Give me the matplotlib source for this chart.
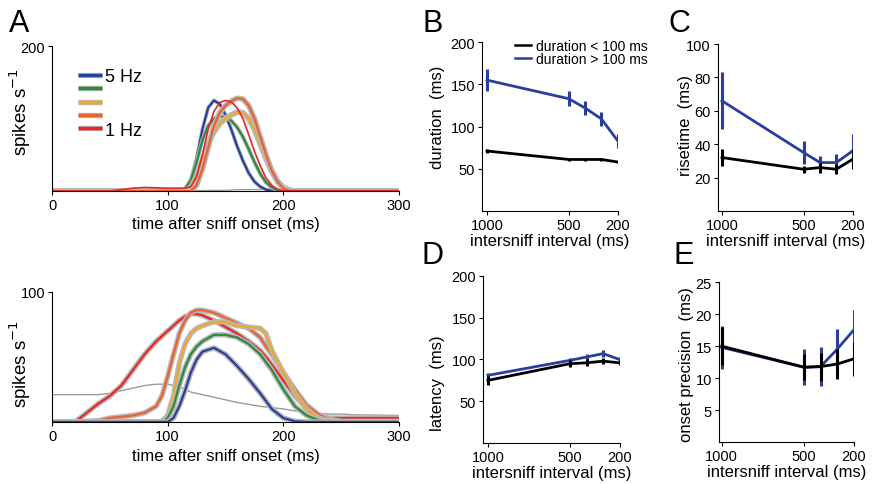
import matplotlib
matplotlib.use("Agg")
import matplotlib.pyplot as plt
import matplotlib.patheffects as pe

plt.rcParams["font.family"] = ["Liberation Sans", "DejaVu Sans"]
plt.rcParams["font.size"] = 10.5

# ---- panel A, top: responses at different sniff frequencies ----
t_top = [0, 50, 60, 70, 80, 90, 100, 105, 110, 115, 120, 125, 130, 135, 140, 145,
         150, 155, 160, 165, 170, 175, 180, 185, 190, 195, 200, 205, 210, 220, 300]
top_blue = [0, 0, 0, 0, 0, 0, 0, 0, 0, 2, 15, 45, 85, 115, 125, 120,
            105, 85, 62, 42, 25, 13, 6, 2, 0.5, 0, 0, 0, 0, 0, 0]
top_green = [0, 0, 0, 0, 0, 0, 0, 0, 0, 3, 15, 40, 70, 90, 100, 103,
             102, 97, 88, 75, 58, 40, 24, 12, 5, 1.5, 0, 0, 0, 0, 0]
top_yellow = [0, 0, 0, 0, 0, 0, 0, 0, 0, 0, 5, 20, 42, 65, 82, 93,
              100, 105, 109, 108, 100, 85, 65, 45, 27, 13, 5, 1.5, 0, 0, 0]
top_orange = [0, 0, 0, 0, 0, 0, 0, 0, 0, 0, 0, 8, 30, 60, 90, 108,
              118, 124, 128, 127, 118, 100, 75, 50, 28, 13, 4, 0, 0, 0, 0]
top_red = [0, 0, 2, 4, 5, 4.5, 4, 4, 4, 4, 6, 20, 50, 85, 110, 122,
           125, 123, 115, 100, 78, 55, 35, 18, 8, 2, 0.5, 0.5, 0.5, 0.5, 0.5]
top_gray = [0.5, 0.5, 0.5, 0.5, 0.5, 0.5, 0.5, 0.5, 0.5, 0.5, 0.6, 0.7, 0.8, 0.9, 1, 1,
            1, 1.5, 2, 2, 2, 2, 2, 1.8, 1.5, 1.3, 1, 1, 1, 1, 1]

# ---- panel A, bottom ----
t_bot = [0, 20, 30, 40, 50, 60, 70, 80, 90, 95, 100, 105, 110, 115, 120, 125, 130,
         140, 150, 160, 170, 180, 185, 190, 200, 210, 220, 230, 240, 250, 260, 300]
bot_blue = [0, 0, 0, 0, 0, 0, 0, 0, 0, 0, 0, 3, 12, 24, 38, 48, 54,
            57, 52, 43, 33, 22, 16, 10, 3, 0.5, 0, 0, 0, 0, 0, 0]
bot_green = [0, 0, 0, 0, 0, 0, 0, 0, 0, 0, 3, 12, 28, 42, 52, 58, 62,
             67, 67, 65, 60, 52, 46, 40, 25, 12, 5, 1.5, 0, 0, 0, 0]
bot_yellow = [0, 0, 0, 0, 0, 0, 0, 0, 0, 0.5, 5, 20, 45, 60, 68, 72, 74,
              77, 77, 74, 73, 72, 68, 55, 38, 22, 10, 3, 1, 0, 0, 0]
bot_orange = [0, 0, 0.5, 1, 3, 4, 5, 7, 12, 20, 35, 52, 68, 78, 84, 86, 86,
              84, 80, 76, 72, 65, 58, 52, 38, 25, 13, 6, 2, 0.5, 0.5, 0.5]
bot_red = [0, 0, 7, 14, 20, 28, 40, 52, 62, 66, 70, 74, 78, 81, 83, 83, 82,
           78, 73, 68, 62, 55, 50, 44, 32, 20, 10, 4, 3, 3, 3, 3]
bot_gray = [21, 21, 21, 21, 22, 24, 26, 28, 29, 29, 29, 28, 27, 25, 23, 22, 21,
            19, 17, 15, 13.5, 12, 11.5, 11, 10, 8.5, 7, 6.5, 6, 6, 5.5, 5]

# ---- panels B-E: versus intersniff interval ----
isi = [1000, 500, 400, 300, 200]
dur_long = [155, 133, 122, 109, 83]
dur_long_err = [13, 9, 8, 8, 8]
dur_short = [71, 61, 61, 61, 58]
dur_short_err = [2, 2, 2, 2, 1.5]

rise_long = [66, 35, 29, 29, 36]
rise_long_err = [17, 7, 4, 5, 10]
rise_short = [32, 25, 26, 25, 31]
rise_short_err = [5, 2, 3, 3, 6]

lat_long = [81, 99, 103, 107, 100]
lat_long_err = [3, 3, 4, 4, 3]
lat_short = [75, 95, 96, 98, 96]
lat_short_err = [5, 4, 4, 4, 3]

prec_long = [14.8, 11.7, 11.8, 14.5, 17.5]
prec_long_err = [3.3, 2.8, 3.0, 3.2, 3.2]
prec_short = [15.0, 11.7, 11.8, 12.2, 13.0]
prec_short_err = [3.0, 2.0, 2.2, 2.3, 2.6]

BLUE = "#2a3e9c"
GREEN = "#2e8a3e"
YELLOW = "#f0a92a"
ORANGE = "#ea622e"
RED = "#e8262a"
GRAY = "#9a9a9a"
SHADE = "#b8b8b8"


def style_axes(ax):
    ax.spines["top"].set_visible(False)
    ax.spines["right"].set_visible(False)
    ax.tick_params(direction="out", length=3, width=0.8, pad=2)


def halo(width):
    return [pe.Stroke(linewidth=width, foreground=SHADE), pe.Normal()]


fig = plt.figure(figsize=(8.83, 4.85), dpi=100)

# panel A top
axA1 = fig.add_axes([0.0589, 0.604, 0.393, 0.299])
axA1.plot(t_top, top_gray, color=GRAY, lw=0.9)
for ys, c, sw in [(top_blue, BLUE, 2.8), (top_green, GREEN, 3.0),
                  (top_yellow, YELLOW, 4.2), (top_orange, ORANGE, 4.0)]:
    axA1.plot(t_top, ys, color=c, lw=1.6, path_effects=halo(sw))
axA1.plot(t_top, top_red, color=RED, lw=1.2)
axA1.set_xlim(0, 300)
axA1.set_ylim(0, 200)
axA1.set_xticks([0, 100, 200, 300])
axA1.set_yticks([200])
axA1.set_xlabel("time after sniff onset (ms)", fontsize=12, labelpad=3)
axA1.set_ylabel("spikes s$^{-1}$", fontsize=13.5)
axA1.yaxis.set_label_coords(-0.055, 0.55)
style_axes(axA1)
leg_handles = [plt.Line2D([], [], color=c, lw=2.5, solid_capstyle="butt",
                          path_effects=halo(3.8))
               for c in [BLUE, GREEN, YELLOW, ORANGE, RED]]
axA1.legend(leg_handles, ["5 Hz", "", "", "", "1 Hz"], loc="upper left",
            bbox_to_anchor=(0.05, 0.91), frameon=False, fontsize=13,
            handlelength=1.3, handletextpad=0.15, labelspacing=-0.2, borderpad=0)

# panel A bottom
axA2 = fig.add_axes([0.0589, 0.128, 0.393, 0.268])
axA2.plot(t_bot, bot_gray, color=GRAY, lw=1.0)
for ys, c in [(bot_red, RED), (bot_orange, ORANGE), (bot_yellow, YELLOW),
              (bot_green, GREEN), (bot_blue, BLUE)]:
    axA2.plot(t_bot, ys, color=c, lw=1.6, path_effects=halo(3.8))
axA2.set_xlim(0, 300)
axA2.set_ylim(0, 100)
axA2.set_xticks([0, 100, 200, 300])
axA2.set_yticks([100])
axA2.set_xlabel("time after sniff onset (ms)", fontsize=12, labelpad=4)
axA2.set_ylabel("spikes s$^{-1}$", fontsize=13.5)
axA2.yaxis.set_label_coords(-0.055, 0.45)
style_axes(axA2)


def interval_panel(rect, short, short_err, long_, long_err, ylim, yticks,
                   ylabel, xlim, label_xy):
    ax = fig.add_axes(rect)
    ax.errorbar(isi, long_, yerr=long_err, color=BLUE, lw=2, elinewidth=2.2,
                capsize=0, zorder=2)
    ax.errorbar(isi, short, yerr=short_err, color="black", lw=2, elinewidth=2.2,
                capsize=0, zorder=3)
    ax.set_xlim(*xlim)
    ax.set_ylim(*ylim)
    ax.set_xticks([1000, 500, 200])
    ax.set_yticks(yticks)
    ax.set_ylabel(ylabel, fontsize=12)
    ax.yaxis.set_label_coords(*label_xy)
    ax.set_xlabel("intersniff interval (ms)", fontsize=12, labelpad=1)
    style_axes(ax)
    return ax


axB = interval_panel([0.546, 0.563, 0.154, 0.348], dur_short, dur_short_err,
                     dur_long, dur_long_err, (0, 200), [50, 100, 150, 200],
                     "duration  (ms)", (1030, 198), (-0.27, 0.56))
axB.legend([plt.Line2D([], [], color="black", lw=1.8),
            plt.Line2D([], [], color=BLUE, lw=1.8)],
           ["duration < 100 ms", "duration > 100 ms"], loc="upper right",
           bbox_to_anchor=(1.27, 1.06), frameon=False, fontsize=10,
           handlelength=1.1, handletextpad=0.4, labelspacing=-0.05, borderpad=0)

axC = interval_panel([0.813, 0.563, 0.153, 0.344], rise_short, rise_short_err,
                     rise_long, rise_long_err, (0, 100), [20, 40, 60, 80, 100],
                     "risetime  (ms)", (1025, 198), (-0.185, 0.52))

axD = interval_panel([0.547, 0.0845, 0.155, 0.3445], lat_short, lat_short_err,
                     lat_long, lat_long_err, (0, 200), [50, 100, 150, 200],
                     "latency  (ms)", (1030, 198), (-0.28, 0.365))

axE = interval_panel([0.814, 0.0866, 0.153, 0.3294], prec_short, prec_short_err,
                     prec_long, prec_long_err, (0, 25), [5, 10, 15, 20, 25],
                     "onset precision  (ms)", (1018, 198), (-0.18, 0.49))

# panel letters
for x, y, s in [(0.010, 0.935, "A"), (0.478, 0.935, "B"), (0.757, 0.935, "C"),
                (0.477, 0.455, "D"), (0.763, 0.455, "E")]:
    fig.text(x, y, s, fontsize=22)

fig.savefig("out.png", dpi=100)
